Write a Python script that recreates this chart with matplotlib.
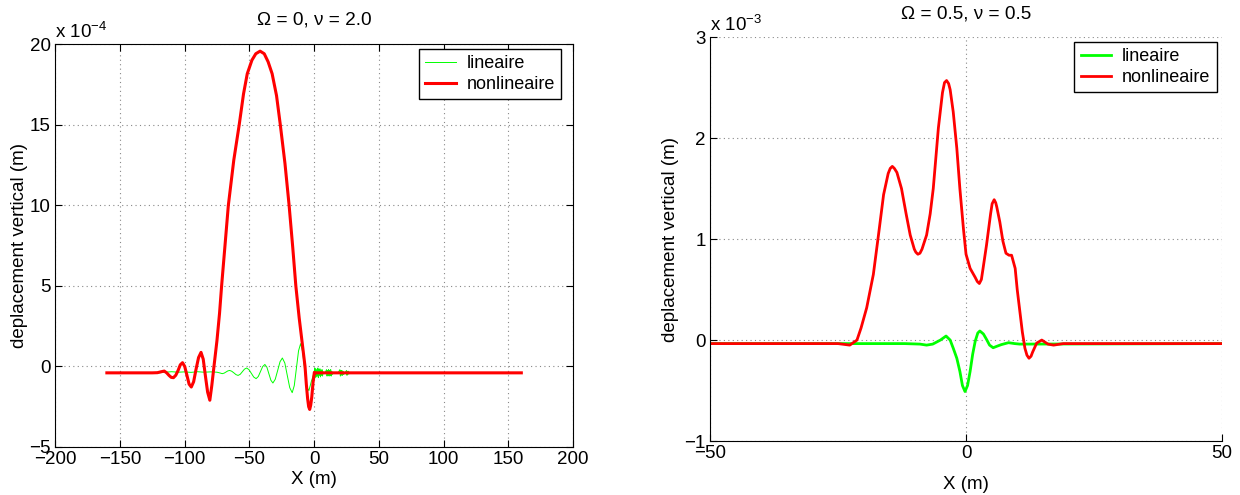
import numpy as np
import matplotlib
matplotlib.use("Agg")
import matplotlib.pyplot as plt

plt.rcParams['font.family'] = ['Liberation Sans', 'DejaVu Sans']
plt.rcParams['font.size'] = 13.5
plt.rcParams['mathtext.fontset'] = 'custom'
plt.rcParams['mathtext.rm'] = 'Liberation Sans'

# ---- left panel: Omega = 0, nu = 2.0  (values in units of 1e-4 m)
x_lin_a = [-160, -120, -115, -110, -105, -100, -95, -90, -85, -80, -75, -73, -70.9,
           -69.5, -68.05, -66.6, -65.2, -63.6, -61.95, -60.3, -58.7, -57.05, -55.4, -53.75,
           -52.1, -50.3, -48.45, -46.6, -44.8, -43.1, -41.4, -39.7, -38.0, -36.45, -34.9,
           -33.35, -31.8, -30.0, -28.15, -26.3, -24.5, -22.6, -20.7, -18.8, -16.9, -15.3,
           -13.65, -12.0, -10.4, -8.8, -7.2, -5.6, -4.0, -2.0, 0.0,
           0.5, 0.9, 1.3, 1.7, 2.1, 2.5, 2.9, 3.3, 3.7, 4.1, 4.5, 4.9, 5.3, 5.7, 6.1, 6.5, 7.0, 8.5,
           9.6, 10.0, 10.4, 10.8, 11.2, 11.6, 12.0, 12.4, 12.8, 13.2, 13.6, 14.0, 15.0, 18.5,
           19.9, 20.3, 20.7, 21.1, 21.5, 21.9, 22.3, 22.7, 24.0,
           25.0, 25.4, 25.8, 26.2, 26.6, 27.0, 30, 160]
y_lin_a = [-0.4, -0.4, -0.36, -0.33, -0.36, -0.34, -0.37, -0.33, -0.36, -0.34, -0.36, -0.40, -0.45,
           -0.42, -0.35, -0.28, -0.25, -0.30, -0.40, -0.51, -0.56, -0.49, -0.33, -0.17,
           -0.10, -0.20, -0.43, -0.66, -0.76, -0.63, -0.32, -0.01, 0.12, -0.05, -0.46,
           -0.86, -1.03, -0.80, -0.26, 0.29, 0.52, 0.21, -0.56, -1.32, -1.63, -1.19,
           -0.11, 0.97, 1.41, 0.9, -0.3, -1.3, -1.5, -0.9, -0.4,
           -0.1, -0.7, -0.15, -0.65, -0.2, -0.6, -0.1, -0.7, -0.2, -0.55, -0.15, -0.65, -0.25, -0.55, -0.2, -0.6, -0.35, -0.4,
           -0.2, -0.6, -0.25, -0.55, -0.2, -0.6, -0.25, -0.55, -0.2, -0.6, -0.3, -0.5, -0.4, -0.4,
           -0.2, -0.6, -0.25, -0.55, -0.25, -0.55, -0.3, -0.5, -0.4,
           -0.25, -0.55, -0.3, -0.5, -0.3, -0.45, -0.4, -0.4]
x_nl_a = [-160, -125, -121, -118.5, -115.7, -113.8, -112, -110.3, -108.6, -106.8, -105,
          -103.3, -101.6, -99.9, -98.2, -96.5, -94.8, -93, -91.2, -89.2, -87.3, -85.6,
          -83.9, -82.2, -80.5, -79, -77.3, -75, -73, -71.4, -69, -66.2, -62, -57.8, -54.5,
          -51.6, -48, -45, -41.7, -38.5, -35.5, -32.4, -29, -26.1, -22.5, -19.3, -16.5,
          -14.1, -11.5, -9.4, -8.2, -7.0, -6.0, -5.0, -4.2, -3.4, -2.6, -1.8, -0.8, 0.2,
          1.0, 160]
y_nl_a = [-0.4, -0.4, -0.39, -0.34, -0.29, -0.40, -0.56, -0.68, -0.70, -0.55, -0.25,
          0.10, 0.23, 0.0, -0.55, -1.10, -1.28, -0.95, -0.20, 0.55, 0.87, 0.45,
          -0.60, -1.60, -2.10, -1.20, 0.0, 1.6, 3.3, 5.0, 7.3, 10.0, 12.8, 15.0, 16.9,
          18.16, 19.0, 19.4, 19.56, 19.4, 18.9, 18.16, 16.8, 15.0, 12.6, 10.0, 7.4,
          5.0, 3.0, 1.6, 0.8, 0.0, -1.1, -2.0, -2.5, -2.67, -2.4, -1.9, -1.0, -0.37,
          -0.4, -0.4]

# ---- right panel: Omega = 0.5, nu = 0.5  (values in units of 1e-3 m)
x_lin_b = [-50, -12, -9, -7.7, -6.5, -5, -3.9, -3.1, -2.5, -1.8, -1.2, -0.7, -0.2, 0.3, 0.8,
           1.3, 1.8, 2.3, 2.7, 3.4, 4.0, 4.6, 5.3, 6.1, 6.9, 8.3, 9.5, 10.5, 50]
y_lin_b = [-0.035, -0.035, -0.04, -0.05, -0.04, 0.0, 0.04, 0.0, -0.08, -0.18, -0.31, -0.45, -0.51, -0.45, -0.31,
           -0.14, -0.01, 0.07, 0.09, 0.06, 0.007, -0.05, -0.076, -0.06, -0.045, -0.026, -0.035, -0.04, -0.035]
x_nl_b = [-50, -25, -22.7, -21.3, -20.5, -19.4, -18.1, -17.1, -16.1, -15.2, -14.8, -14.4, -14.0,
          -13.5, -12.6, -11.7, -10.9, -10.1, -9.8, -9.4, -9.0, -8.6, -7.7, -7.0, -6.4, -5.4,
          -4.6, -4.2, -3.8, -3.4, -3.1, -2.5, -1.8, -1.2, -0.5, 0.0, 0.8, 1.8, 2.2, 2.6, 3.0,
          3.3, 4.0, 4.8, 5.1, 5.5, 5.8, 6.0, 6.6, 7.2, 7.8, 8.4, 8.9, 9.6, 10.0, 10.5, 11.0,
          11.5, 11.9, 12.3, 12.7, 13.0, 13.8, 14.8, 16.0, 17.1, 19, 50]
y_nl_b = [-0.035, -0.035, -0.05, 0.0, 0.12, 0.32, 0.65, 1.04, 1.44, 1.65, 1.70, 1.72, 1.70,
          1.66, 1.50, 1.25, 1.04, 0.90, 0.87, 0.85, 0.86, 0.90, 1.04, 1.25, 1.50, 2.10,
          2.45, 2.55, 2.57, 2.54, 2.48, 2.26, 1.90, 1.50, 1.10, 0.85, 0.71, 0.62, 0.58, 0.56, 0.60,
          0.70, 0.94, 1.25, 1.35, 1.39, 1.36, 1.32, 1.17, 0.98, 0.86, 0.84, 0.84, 0.71, 0.50, 0.29, 0.08,
          -0.08, -0.15, -0.18, -0.16, -0.12, -0.03, 0.0, -0.04, -0.05, -0.035, -0.035]

labels = ['lineaire', 'nonlineaire']

fig = plt.figure(figsize=(12.4, 4.95), dpi=100)
ax1 = fig.add_axes([0.0444, 0.097, 0.4178, 0.814])
ax2 = fig.add_axes([0.5726, 0.109, 0.4129, 0.816])

grid_kw = dict(color='#888888', linestyle=(0, (1, 3)), linewidth=0.8)
leg_kw = dict(loc='upper right', borderaxespad=0, fancybox=False, edgecolor='black',
              framealpha=1, handlelength=1.7, handletextpad=0.6, fontsize=13,
              borderpad=0.35, labelspacing=0.2)

# left
ax1.plot(x_lin_a, y_lin_a, color='#00ff00', linewidth=0.7, label=labels[0])
ax1.plot(x_nl_a, y_nl_a, color='red', linewidth=2.2, label=labels[1])
ax1.set_xlim(-200, 200)
ax1.set_ylim(-5, 20)
ax1.set_xticks(np.arange(-200, 201, 50))
ax1.set_yticks(np.arange(-5, 21, 5))
ax1.grid(True, **grid_kw)
ax1.tick_params(direction='in', length=5, top=True, right=True, width=0.8, pad=3)
ax1.set_xlabel('X (m)', labelpad=2)
ax1.set_ylabel('deplacement vertical (m)', labelpad=1)
ax1.set_title('Ω = 0, ν = 2.0', pad=14, fontsize=13.7)
ax1.text(0.0, 1.005, r'x 10$^{-4}$', transform=ax1.transAxes, ha='left', va='bottom')
leg1 = ax1.legend(bbox_to_anchor=(0.977, 0.988), **leg_kw)
leg1.get_frame().set_linewidth(1.0)

# right
ax2.plot(x_lin_b, y_lin_b, color='#00ff00', linewidth=2.0, label=labels[0])
ax2.plot(x_nl_b, y_nl_b, color='red', linewidth=2.0, label=labels[1])
ax2.set_xlim(-50, 50)
ax2.set_ylim(-1, 3)
ax2.set_xticks([-50, 0, 50])
ax2.set_yticks([-1, 0, 1, 2, 3])
ax2.grid(True, **grid_kw)
ax2.spines['top'].set_visible(False)
ax2.spines['right'].set_visible(False)
ax2.tick_params(direction='in', length=5, width=0.8, pad=3)
ax2.set_xlabel('X (m)', labelpad=10)
ax2.set_ylabel('deplacement vertical (m)', labelpad=4)
ax2.set_title('Ω = 0.5, ν = 0.5', pad=13.5, fontsize=13.7)
ax2.text(0.0, 1.005, r'x 10$^{-3}$', transform=ax2.transAxes, ha='left', va='bottom')
leg2 = ax2.legend(bbox_to_anchor=(0.990, 0.988), **leg_kw)
leg2.get_frame().set_linewidth(1.0)

fig.savefig('out.png', dpi=100)
